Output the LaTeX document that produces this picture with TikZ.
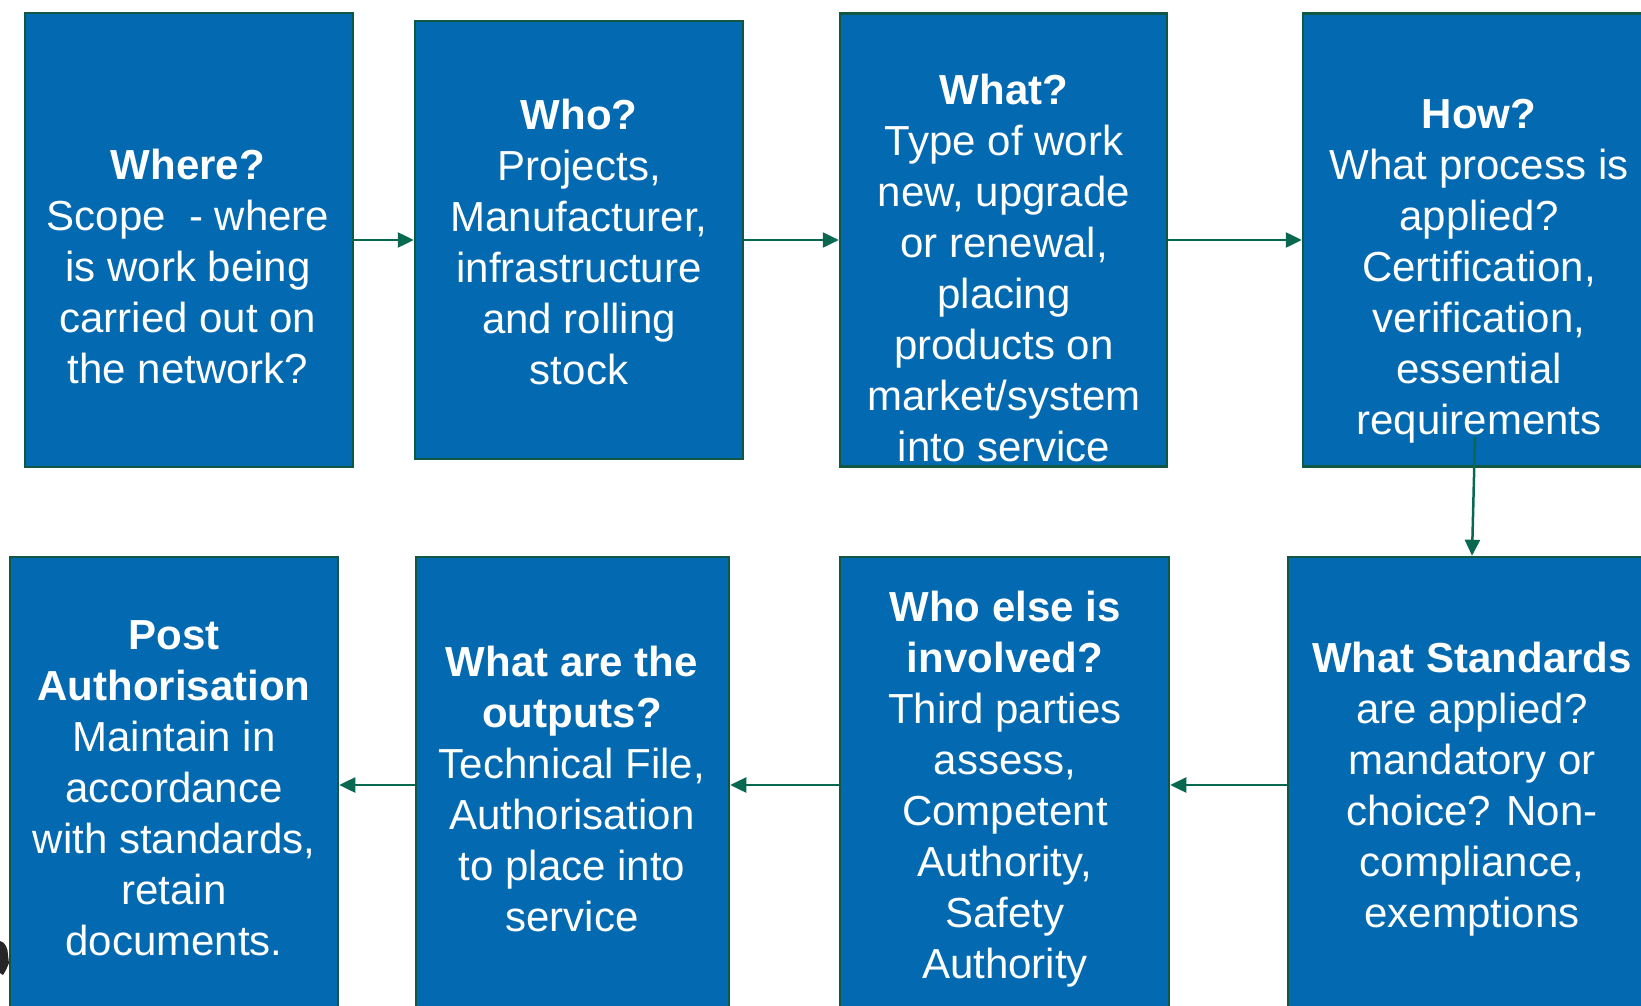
\documentclass[tikz,border=0pt]{standalone}
\usepackage{fontspec}
\setmainfont{Liberation Sans}
\usetikzlibrary{arrows.meta}
\definecolor{boxfill}{RGB}{3,105,176}
\definecolor{boxline}{RGB}{14,88,68}
\definecolor{arrcol}{RGB}{8,104,80}
\tikzset{
  qbox/.style={draw=boxline, line width=2.5pt, fill=boxfill, rectangle, inner sep=0pt},
  qtext/.style={text=white, align=center, inner sep=0pt, font=\fontsize{42}{51}\selectfont},
  arr/.style={draw=arrcol, line width=2.5pt, -{Triangle[length=16pt,width=15pt]}}
}
\begin{document}
\begin{tikzpicture}[x=1pt,y=-1pt]
\useasboundingbox (0,0) rectangle (1641,1006);
% top row
\node[qbox, minimum width=328pt, minimum height=454pt] (b1) at (189,240) {};
\node[qbox, minimum width=328pt, minimum height=438pt] (b2) at (579,240) {};
\node[qbox, minimum width=327pt, minimum height=453pt] (b3) at (1003.5,240) {};
\node[qbox, minimum width=352pt, minimum height=453pt] (b4) at (1479,240) {};
% bottom row
\node[qbox, minimum width=368pt, minimum height=456pt] (b5) at (1472,785) {};
\node[qbox, minimum width=329pt, minimum height=456pt] (b6) at (1004.5,785) {};
\node[qbox, minimum width=313pt, minimum height=456pt] (b7) at (572.5,785) {};
\node[qbox, minimum width=328pt, minimum height=456pt] (b8) at (174,785) {};
% texts
\node[qtext] (t1) at (188,266) {\textbf{Where?}\\Scope\ \ - where\\is work being\\carried out on\\the network?};
\node[qtext] (t2) at (579,242) {\textbf{Who?}\\Projects,\\Manufacturer,\\infrastructure\\and rolling\\stock};
\node[qtext] (t3) at (1004,268) {\textbf{What?}\\Type of work\\new, upgrade\\or renewal,\\placing\\products on\\market/system\\into service};
\node[qtext] (t4) at (1479,271) {\textbf{How?}\\What process is\\applied?\\Certification,\\verification,\\essential\\requirements};
\node[qtext] (t5) at (1472,789) {\textbf{What Standards}\\are applied?\\mandatory or\\choice? Non-\\compliance,\\exemptions};
\node[qtext] (t6) at (1005,789) {\textbf{Who else is}\\\textbf{involved?}\\Third parties\\assess,\\Competent\\Authority,\\Safety\\Authority};
\node[qtext] (t7) at (572,789) {\textbf{What are the}\\\textbf{outputs?}\\Technical File,\\Authorisation\\to place into\\service};
\node[qtext] (t8) at (174,788) {\textbf{Post}\\\textbf{Authorisation}\\Maintain in\\accordance\\with standards,\\retain\\documents.};
% connectors
\coordinate (hs) at (1475,437);
\draw[arr] (b1.east) -- (b2.west);
\draw[arr] (b2.east) -- (b3.west);
\draw[arr] (b3.east) -- (b4.west);
\draw[arr] (hs) -- (b5.north);
\draw[arr] (b5.west) -- (b6.east);
\draw[arr] (b6.west) -- (b7.east);
\draw[arr] (b7.west) -- (b8.east);
% small dark fragment at the left edge
\fill[black!85] (0,941) .. controls (5,942) and (8,948) .. (8,955) -- (9,963) -- (6,970) -- (3,975) -- (0,973) -- cycle;
\end{tikzpicture}
\end{document}
